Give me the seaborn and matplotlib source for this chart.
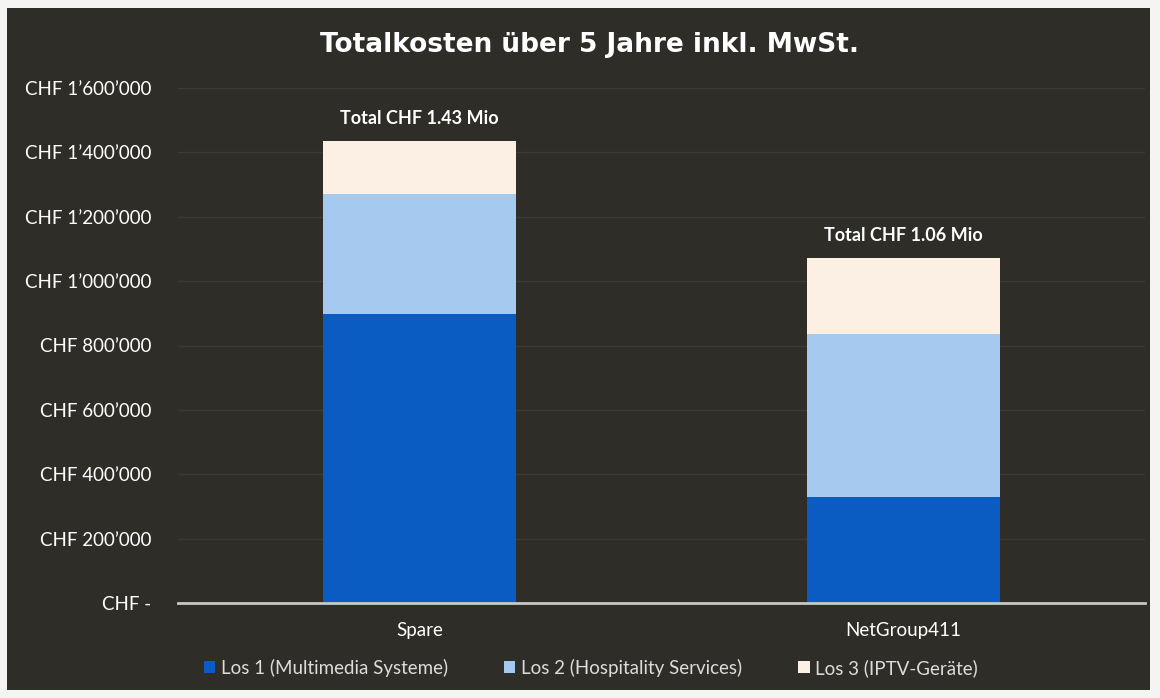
import matplotlib
matplotlib.use("Agg")
import matplotlib.pyplot as plt
import seaborn as sns
import pandas as pd
from matplotlib.patches import Patch, Rectangle
from matplotlib.ticker import FuncFormatter

anbieter = ["Spare", "NetGroup411"]
los1 = [897000, 328000]   # Los 1 (Multimedia Systeme)
los2 = [373000, 507000]   # Los 2 (Hospitality Services)
los3 = [165000, 236000]   # Los 3 (IPTV-Geräte)
total_labels = ["Total CHF 1.43 Mio", "Total CHF 1.06 Mio"]
legend_labels = ["Los 1 (Multimedia Systeme)", "Los 2 (Hospitality Services)", "Los 3 (IPTV-Geräte)"]
farben = ["#0b5cc2", "#a6c9ef", "#fcefe4"]
yticks = [0, 200000, 400000, 600000, 800000, 1000000, 1200000, 1400000, 1600000]

df = pd.DataFrame({"anbieter": anbieter, "los1": los1, "los2": los2, "los3": los3})
df["cum1"] = df["los1"]
df["cum2"] = df["los1"] + df["los2"]
df["cum3"] = df["cum2"] + df["los3"]

sns.set_theme(style="dark")
plt.rcParams["font.family"] = ["Lato", "DejaVu Sans"]

bg = "#2e2d28"
fig = plt.figure(figsize=(11.6, 6.98), dpi=100)
fig.patch.set_facecolor("#f4f4f2")
fig.add_artist(Rectangle((7 / 1160, 8 / 698), 1143 / 1160, 682 / 698, transform=fig.transFigure,
                         facecolor=bg, edgecolor="none", zorder=0))
ax = fig.add_axes([178 / 1160, 1 - 603 / 698, (1145 - 178) / 1160, (603 - 88) / 698])
ax.set_facecolor("none")

# stacked bars drawn as overlapping cumulative totals
for spalte, farbe in zip(["cum3", "cum2", "cum1"], farben[::-1]):
    sns.barplot(data=df, x="anbieter", y=spalte, color=farbe, width=0.4, saturation=1,
                linewidth=0, ax=ax, zorder=3)

ax.set_xlim(-0.5, 1.5)
ax.set_ylim(0, 1600000)
ax.set_yticks(yticks)
ax.yaxis.set_major_formatter(FuncFormatter(
    lambda v, p: "CHF -" if v == 0 else "CHF " + f"{v:,.0f}".replace(",", "\u2019")))
ax.grid(axis="y", color="#3a3933", linewidth=1, zorder=0)
ax.grid(axis="x", visible=False)
for s in ["top", "right", "left"]:
    ax.spines[s].set_visible(False)
ax.spines["bottom"].set_color("#c8c8c4")
ax.spines["bottom"].set_linewidth(2)
ax.spines["bottom"].set_zorder(4)
ax.tick_params(axis="y", colors="white", labelsize=13.5, pad=19, length=0)
ax.tick_params(axis="x", colors="white", labelsize=13.5, pad=14, length=0)
ax.set_xlabel("")
ax.set_ylabel("")

for i, lab in enumerate(total_labels):
    ax.text(i, df["cum3"][i] + 45000, lab, ha="center", va="bottom", color="white",
            fontsize=13, fontweight="bold")

fig.text(590 / 1160, 1 - 45 / 698, "Totalkosten über 5 Jahre inkl. MwSt.", ha="center", va="center",
         color="white", fontsize=19, fontweight="semibold", fontfamily="DejaVu Sans")

handles = [Patch(facecolor=c, edgecolor="none") for c in farben]
fig.legend(handles, legend_labels, loc="center", bbox_to_anchor=(591 / 1160, 1 - 668 / 698), ncol=3,
           frameon=False, fontsize=13.5, labelcolor="#dcdcdc", handlelength=0.6, handleheight=0.6,
           handletextpad=0.3, columnspacing=3.0)

fig.savefig("out.png", dpi=100, facecolor=fig.get_facecolor())
